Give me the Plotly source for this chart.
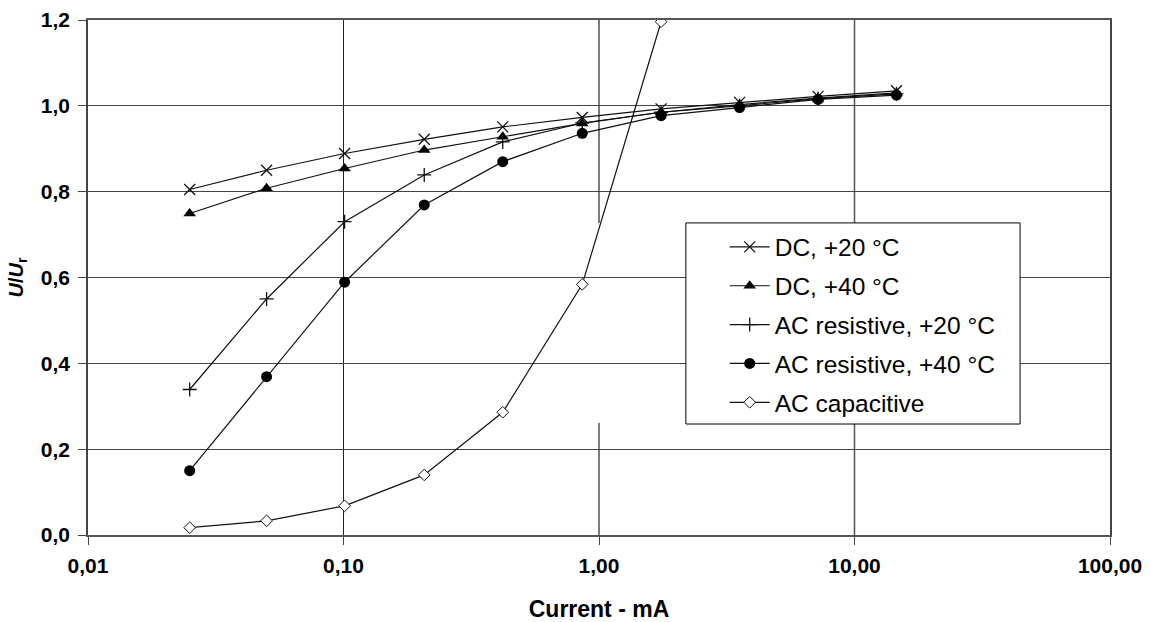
import plotly.graph_objects as go

current = [0.025, 0.05, 0.101, 0.207, 0.42, 0.86, 1.75, 3.55, 7.2, 14.6]
dc20 = [0.805, 0.850, 0.889, 0.922, 0.951, 0.973, 0.993, 1.008, 1.022, 1.035]
dc40 = [0.749, 0.808, 0.854, 0.897, 0.928, 0.959, 0.985, 1.003, 1.018, 1.030]
ac_res20 = [0.339, 0.550, 0.730, 0.839, 0.916, 0.960, 0.985, 1.000, 1.017, 1.028]
ac_res40 = [0.150, 0.369, 0.589, 0.769, 0.870, 0.936, 0.977, 0.996, 1.015, 1.025]
ac_cap = [0.017, 0.033, 0.068, 0.140, 0.286, 0.584, 1.196]

x_tickvals = [0.01, 0.1, 1, 10, 100]
x_ticktext = ["0,01", "0,10", "1,00", "10,00", "100,00"]
y_tickvals = [0.0, 0.2, 0.4, 0.6, 0.8, 1.0, 1.2]

fig = go.Figure()
line = dict(color="#111111", width=1.2)

fig.add_trace(go.Scatter(x=current, y=dc20, name="DC, +20 °C", mode="lines+markers", legendgroup="a",
                         line=line, marker=dict(symbol="x-thin-open", size=11,
                                                line=dict(color="#111111", width=1.3))))
fig.add_trace(go.Scatter(x=current, y=dc40, name="DC, +40 °C", mode="lines+markers", legendgroup="b",
                         line=line, marker=dict(symbol="triangle-up", size=11, color="#000000")))
fig.add_trace(go.Scatter(x=current, y=ac_res20, name="AC resistive, +20 °C", mode="lines+markers", legendgroup="c",
                         line=line, marker=dict(symbol="cross-thin-open", size=10,
                                                line=dict(color="#111111", width=1.3))))
fig.add_trace(go.Scatter(x=current, y=ac_res40, name="AC resistive, +40 °C", mode="lines+markers", legendgroup="d",
                         line=line, marker=dict(symbol="circle", size=11, color="#000000")))
fig.add_trace(go.Scatter(x=current[:len(ac_cap)], y=ac_cap, name="AC capacitive", mode="lines+markers", legendgroup="e",
                         line=line, marker=dict(symbol="diamond", size=9, color="#ffffff",
                                                line=dict(color="#111111", width=1))))

# vertical gridlines (the one at 1,00 is interrupted in the original)
shapes = [
    dict(type="line", xref="x", yref="y", x0=0.1, x1=0.1, y0=0, y1=1.2,
         line=dict(color="#222222", width=1), layer="below"),
    dict(type="line", xref="x", yref="y", x0=10, x1=10, y0=0, y1=1.2,
         line=dict(color="#555555", width=1.5), layer="below"),
    dict(type="line", xref="x", yref="y", x0=1, x1=1, y0=0.727, y1=1.2,
         line=dict(color="#222222", width=1.2), layer="below"),
    dict(type="line", xref="x", yref="y", x0=1, x1=1, y0=0, y1=0.261,
         line=dict(color="#222222", width=1.2), layer="below"),
    # legend frame
    dict(type="rect", xref="paper", yref="paper", x0=0.585, x1=0.912, y0=0.2155, y1=0.606,
         line=dict(color="#000000", width=1), fillcolor="white", layer="above"),
]

fig.update_layout(
    width=1151, height=622,
    paper_bgcolor="white", plot_bgcolor="white",
    margin=dict(l=88, r=41, t=20, b=87),
    separators=",.",
    font=dict(family="Liberation Sans, Arial", color="#000000"),
    legend=dict(x=0.623, y=0.603, xanchor="left", yanchor="top",
                bgcolor="rgba(0,0,0,0)", borderwidth=0,
                font=dict(size=24.5, family="Liberation Sans, Arial"),
                tracegroupgap=4, itemwidth=40),
    showlegend=True,
    shapes=shapes,
)
fig.update_xaxes(
    type="log", range=[-2, 2], automargin=False,
    tickvals=x_tickvals, ticktext=x_ticktext,
    tickfont=dict(size=21, weight="bold"), ticklabelstandoff=3,
    showgrid=False,
    ticks="outside", ticklen=8, tickcolor="#444444",
    showline=True, linecolor="#555555", linewidth=2, mirror=True,
    title=dict(text="Current - mA", font=dict(size=23, weight="bold"), standoff=26),
    zeroline=False,
)
fig.update_yaxes(
    range=[0, 1.2], tickvals=y_tickvals, tickformat=".1f", automargin=False,
    tickfont=dict(size=21, weight="bold"), ticklabelstandoff=4,
    showgrid=True, gridcolor="#444444", gridwidth=1.2,
    ticks="outside", ticklen=8, tickcolor="#444444",
    showline=True, linecolor="#444444", linewidth=1.5, mirror=True,
    title=dict(text="<i>U</i>/<i>U</i><sub>r</sub>", font=dict(size=20, weight="bold"), standoff=12),
    zeroline=False,
)

fig.write_html("out.html")
